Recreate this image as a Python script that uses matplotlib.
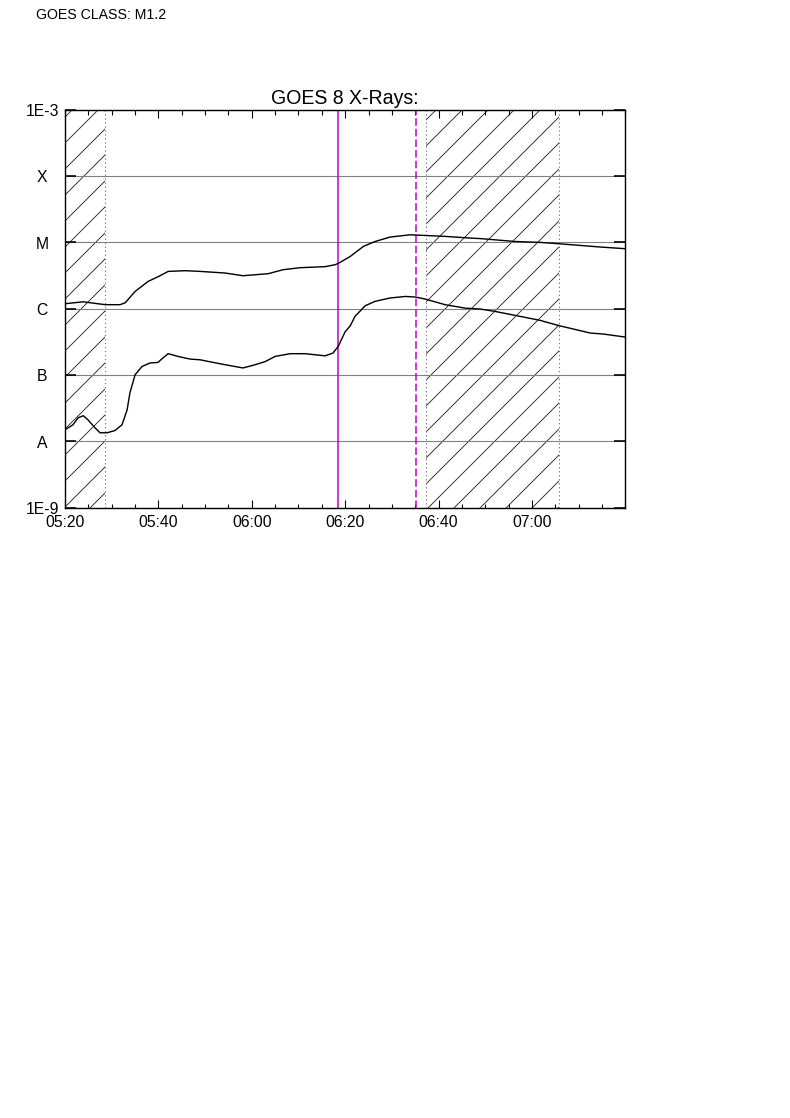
import matplotlib
matplotlib.use("Agg")
import matplotlib.pyplot as plt
from matplotlib.ticker import FixedLocator, FixedFormatter, MultipleLocator, NullLocator

plt.rcParams['font.family'] = ['Liberation Sans', 'DejaVu Sans']
plt.rcParams['hatch.linewidth'] = 0.8

# ---------------- data (time in minutes after 05:20 UT) ----------------
long_t = [0.0, 3.9, 8.6, 11.8, 12.9, 15.0, 17.8, 19.9, 22.1, 25.7, 28.9, 34.3,
          38.1, 43.5, 46.7, 50.4, 55.7, 57.9, 58.9, 61.1, 63.9, 66.4, 69.6,
          73.9, 77.1, 81.4, 86.8, 88.9, 96.4, 101.8, 105.6, 114.6, 120.0]
long_flux = [1.19e-6, 1.27e-6, 1.15e-6, 1.15e-6, 1.23e-6, 1.82e-6, 2.58e-6,
             3.03e-6, 3.65e-6, 3.74e-6, 3.65e-6, 3.45e-6, 3.14e-6, 3.37e-6,
             3.87e-6, 4.15e-6, 4.30e-6, 4.61e-6, 4.99e-6, 6.14e-6, 8.69e-6,
             1.03e-5, 1.20e-5, 1.30e-5, 1.27e-5, 1.23e-5, 1.16e-5, 1.14e-5,
             1.03e-5, 9.98e-6, 9.55e-6, 8.51e-6, 8.02e-6]

short_t = [0.0, 1.7, 2.8, 3.9, 4.9, 6.4, 7.5, 9.0, 10.7, 12.2, 13.3, 13.9, 15.0,
           16.5, 18.2, 19.9, 21.0, 22.1, 24.2, 26.8, 28.9, 33.2, 38.1, 40.7,
           42.9, 45.0, 48.2, 51.4, 55.7, 57.4, 58.5, 60.0, 61.1, 62.1, 64.3,
           66.4, 69.6, 72.9, 75.0, 77.1, 81.4, 85.7, 88.9, 92.1, 97.5, 101.8,
           105.6, 112.5, 115.3, 120.0]
short_flux = [1.50e-8, 1.78e-8, 2.27e-8, 2.44e-8, 2.12e-8, 1.61e-8, 1.35e-8,
              1.35e-8, 1.46e-8, 1.78e-8, 3.00e-8, 5.41e-8, 1.01e-7, 1.35e-7,
              1.52e-7, 1.55e-7, 1.82e-7, 2.10e-7, 1.91e-7, 1.74e-7, 1.70e-7,
              1.48e-7, 1.28e-7, 1.43e-7, 1.60e-7, 1.91e-7, 2.10e-7, 2.10e-7,
              1.95e-7, 2.15e-7, 2.70e-7, 4.50e-7, 5.54e-7, 7.66e-7, 1.11e-6,
              1.29e-6, 1.45e-6, 1.53e-6, 1.50e-6, 1.40e-6, 1.15e-6, 1.02e-6,
              9.89e-7, 9.10e-7, 7.66e-7, 6.66e-7, 5.60e-7, 4.30e-7, 4.15e-7,
              3.74e-7]

x_tick_values = [0, 20, 40, 60, 80, 100]
x_tick_labels = ["05:20", "05:40", "06:00", "06:20", "06:40", "07:00"]
y_tick_values = [1e-9, 1e-8, 1e-7, 1e-6, 1e-5, 1e-4, 1e-3]
y_tick_labels = ["1E-9", "A", "B", "C", "M", "X", "1E-3"]

night_spans = [(0.0, 8.57), (77.36, 105.7)]
flare_start = 58.57
flare_peak = 75.07

title = "GOES 8 X-Rays:"
class_text = "GOES CLASS: M1.2"

# ---------------- figure ----------------
DPI = 78
PT = 72.0 / DPI   # points per pixel
fig = plt.figure(figsize=(790.4 / DPI, 1118.4 / DPI), dpi=DPI)
ax = fig.add_axes([65 / 790, 1 - 508 / 1118, 560 / 790, 398 / 1118])

ax.set_yscale('log')
ax.set_xlim(0, 120)
ax.set_ylim(1e-9, 1e-3)

# hatched spans
for a, b in night_spans:
    ax.axvspan(a, b, facecolor='none', edgecolor='#222222', linewidth=0,
               hatch='/', zorder=1)
    for edge in (a, b):
        if 0 < edge < 120:
            ax.axvline(edge, color='#777777', ls=(0, (1.2, 2.5)), lw=1.0, zorder=2)

# class grid lines
ax.yaxis.grid(True, color='#808080', lw=1.0, zorder=1.5)

# flare markers
ax.axvline(flare_start, color='#c000c8', lw=1.4, zorder=3)
ax.axvline(flare_peak, color='#c000c8', lw=1.4, ls=(0, (5, 2)), zorder=3)

# curves
ax.plot(long_t, long_flux, color='black', lw=1.3, zorder=4)
ax.plot(short_t, short_flux, color='black', lw=1.3, zorder=4)

# ticks
ax.xaxis.set_major_locator(FixedLocator(x_tick_values))
ax.xaxis.set_major_formatter(FixedFormatter(x_tick_labels))
ax.xaxis.set_minor_locator(MultipleLocator(5))
ax.set_yticks(y_tick_values, labels=y_tick_labels)
ax.yaxis.set_minor_locator(NullLocator())

ax.tick_params(axis='x', which='major', direction='in', length=8 * PT, width=1.0,
               top=True, bottom=True, pad=7 * PT, labelsize=14.5)
ax.tick_params(axis='x', which='minor', direction='in', length=4.5 * PT, width=1.0,
               top=True, bottom=True)
ax.tick_params(axis='y', which='major', direction='in', length=11 * PT, width=1.5,
               left=True, right=True, pad=23 * PT, labelsize=14.5)
plt.setp(ax.get_yticklabels(), ha='center')

for s in ax.spines.values():
    s.set_linewidth(1.3)
    s.set_zorder(5)

ax.set_title(title, fontsize=18, pad=6 * PT)
fig.text(36 / 790, 1 - 19 / 1118, class_text, fontsize=13, ha='left', va='baseline')

fig.savefig("out.png", dpi=DPI, facecolor='white')
